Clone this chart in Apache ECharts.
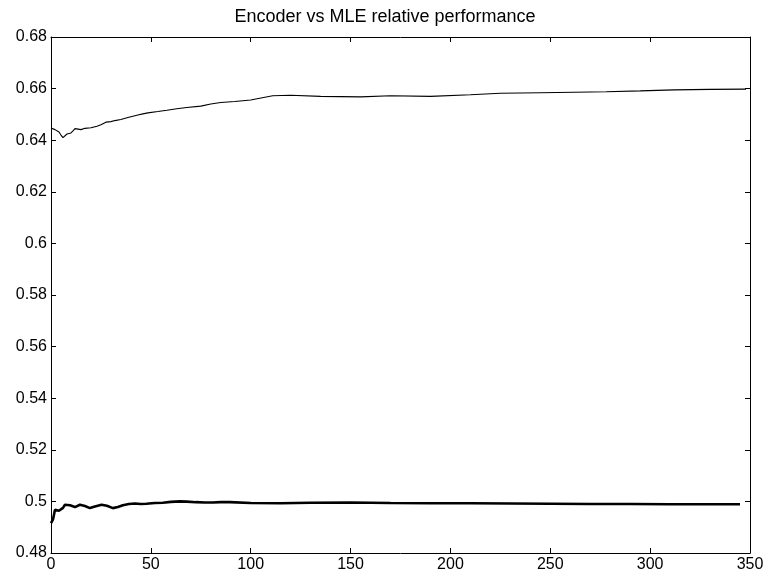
<!DOCTYPE html>
<html>
<head>
<meta charset="utf-8">
<script src="https://cdn.jsdelivr.net/npm/echarts@6/dist/echarts.min.js"></script>
<style>
  html, body { margin: 0; padding: 0; background: #fff; }
  #chart { width: 770px; height: 581px; }
</style>
</head>
<body>
<div id="chart"></div>
<script>
// Encoder relative performance (upper trace)
const encoderX = [0, 1, 2, 3, 4, 5, 6, 7, 8, 9, 10, 11, 12, 13, 15, 17, 18, 20, 23, 25, 27.5, 30, 32, 35, 38.5, 41, 43.5, 46, 48.5, 53.5, 58, 63, 68, 75, 80, 85, 92, 100, 111, 120, 135, 155, 170, 190, 210, 225, 245, 262, 278, 295, 312, 330, 348];
const encoderY = [0.6447, 0.6445, 0.6441, 0.6438, 0.6432, 0.6420, 0.6410, 0.6407, 0.6424, 0.6426, 0.6428, 0.6436, 0.6445, 0.6443, 0.6441, 0.6446, 0.6445, 0.6448, 0.6454, 0.6460, 0.6470, 0.6472, 0.6476, 0.6480, 0.6488, 0.6493, 0.6498, 0.6502, 0.6506, 0.6511, 0.6516, 0.6522, 0.6527, 0.6532, 0.6540, 0.6546, 0.6550, 0.6556, 0.6572, 0.6574, 0.6570, 0.6568, 0.6572, 0.6570, 0.6576, 0.6582, 0.6584, 0.6586, 0.6588, 0.6591, 0.6595, 0.6597, 0.6598];

// MLE relative performance (lower trace)
const mleX = [0, 1, 2, 3, 4, 5, 6, 7, 9.5, 12, 14.5, 17, 19.5, 22, 25.3, 28, 31, 33.5, 36, 39, 42, 45, 47.7, 52, 56, 60, 64.5, 68, 72.5, 77, 81, 85, 89.5, 100, 115, 130, 150, 170, 190, 210, 230, 250, 270, 290, 310, 330, 345];
const mleY = [0.4916, 0.4930, 0.4968, 0.4966, 0.4964, 0.4959, 0.4975, 0.4987, 0.4985, 0.4978, 0.4987, 0.4982, 0.4974, 0.4980, 0.4987, 0.4983, 0.4974, 0.4978, 0.4985, 0.4990, 0.4992, 0.4990, 0.4991, 0.4994, 0.4995, 0.4998, 0.5000, 0.4999, 0.4997, 0.4996, 0.4996, 0.4997, 0.4997, 0.4994, 0.4993, 0.4995, 0.4996, 0.4994, 0.4993, 0.4993, 0.4992, 0.4991, 0.4990, 0.4990, 0.4989, 0.4989, 0.4989];

const xTicks = [0, 50, 100, 150, 200, 250, 300, 350];
const yTicks = [0.48, 0.5, 0.52, 0.54, 0.56, 0.58, 0.6, 0.62, 0.64, 0.66, 0.68];
const chartTitle = 'Encoder vs MLE relative performance';

const font = 'Liberation Sans, Arial, Helvetica, sans-serif';
const pair = (xs, ys) => xs.map((x, i) => [x, ys[i]]);

const baseX = {
  type: 'value', min: xTicks[0], max: xTicks[xTicks.length - 1], interval: 50,
  axisLine: { show: true, onZero: false, lineStyle: { color: '#000', width: 1 } },
  axisTick: { show: true, inside: true, length: 5, lineStyle: { color: '#000' } },
  splitLine: { show: false }
};
const baseY = {
  type: 'value', min: yTicks[0], max: yTicks[yTicks.length - 1], interval: 0.02,
  axisLine: { show: true, onZero: false, lineStyle: { color: '#000', width: 1 } },
  axisTick: { show: true, inside: true, length: 5, lineStyle: { color: '#000' } },
  splitLine: { show: false }
};

const chart = echarts.init(document.getElementById('chart'), null, { renderer: 'canvas' });
chart.setOption({
  backgroundColor: '#fff',
  animation: false,
  title: {
    text: chartTitle, left: 'center', top: 3,
    textStyle: { fontFamily: font, fontSize: 18, fontWeight: 'normal', color: '#000' }
  },
  grid: { left: 51, right: 20, top: 37, bottom: 28 },
  xAxis: [
    Object.assign({}, baseX, {
      position: 'bottom',
      axisLabel: { color: '#000', fontFamily: font, fontSize: 16, margin: 4 }
    }),
    Object.assign({}, baseX, { position: 'top', axisLabel: { show: false } })
  ],
  yAxis: [
    Object.assign({}, baseY, {
      position: 'left',
      axisLabel: {
        color: '#000', fontFamily: font, fontSize: 16, margin: 4,
        formatter: v => String(parseFloat(v.toFixed(2)))
      }
    }),
    Object.assign({}, baseY, { position: 'right', axisLabel: { show: false } })
  ],
  series: [
    {
      type: 'line', data: pair(encoderX, encoderY), showSymbol: false,
      lineStyle: { color: '#000', width: 1.1 }, smooth: false
    },
    {
      type: 'line', data: pair(mleX, mleY), showSymbol: false,
      lineStyle: { color: '#000', width: 2.6 }, smooth: false
    }
  ]
});
</script>
</body>
</html>
